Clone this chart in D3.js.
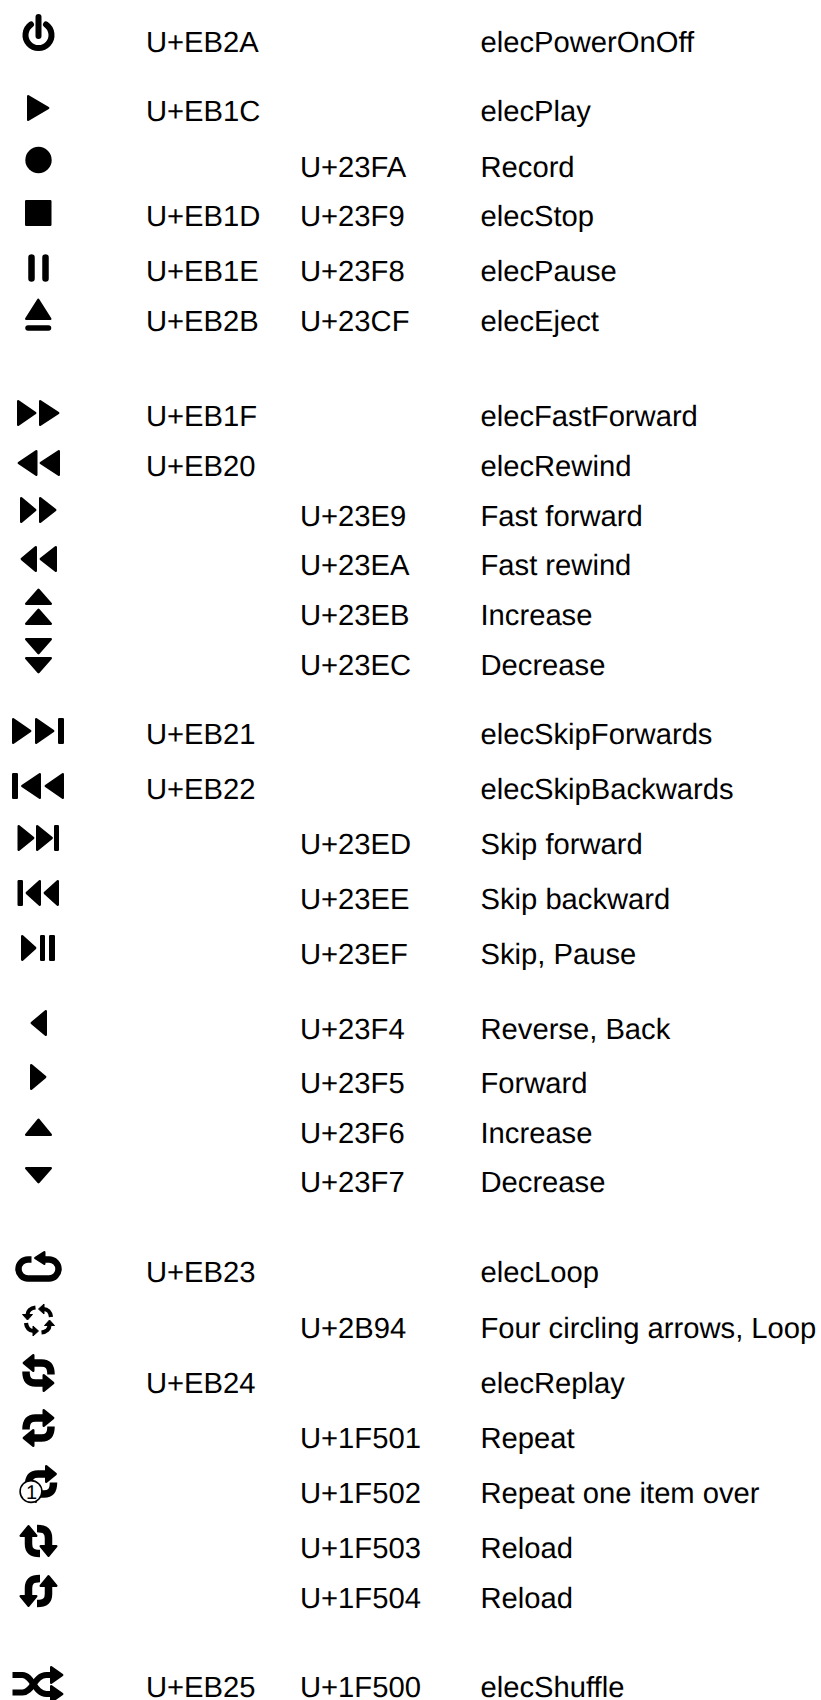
<!DOCTYPE html>
<html>
<head>
<meta charset="utf-8">
<script src="https://cdn.jsdelivr.net/npm/d3@7"></script>
<style>
html, body { margin: 0; padding: 0; background: #fff; }
svg { display: block; }
text { font-family: "Liberation Sans", Arial, sans-serif; font-size: 29.2px; fill: #000; text-rendering: geometricPrecision; }
</style>
</head>
<body>
<div id="chart"></div>
<script>
var glyphs = ["power","play","record","stop","pause","eject",
	"ffLarge","rwLarge","ff","rw","incDouble","decDouble",
	"skipFwdLarge","skipBackLarge","skipFwd","skipBack","skipPause",
	"left","right","up","down",
	"loop","fourArrows","replay","repeat","repeatOne","reload","reloadAlt",
	"shuffle"];
var elecCodes = ["U+EB2A","U+EB1C","","U+EB1D","U+EB1E","U+EB2B",
	"U+EB1F","U+EB20","","","","",
	"U+EB21","U+EB22","","","",
	"","","","",
	"U+EB23","","U+EB24","","","","",
	"U+EB25"];
var unicodes = ["","","U+23FA","U+23F9","U+23F8","U+23CF",
	"","","U+23E9","U+23EA","U+23EB","U+23EC",
	"","","U+23ED","U+23EE","U+23EF",
	"U+23F4","U+23F5","U+23F6","U+23F7",
	"","U+2B94","","U+1F501","U+1F502","U+1F503","U+1F504",
	"U+1F500"];
var names = ["elecPowerOnOff","elecPlay","Record","elecStop","elecPause","elecEject",
	"elecFastForward","elecRewind","Fast forward","Fast rewind","Increase","Decrease",
	"elecSkipForwards","elecSkipBackwards","Skip forward","Skip backward","Skip, Pause",
	"Reverse, Back","Forward","Increase","Decrease",
	"elecLoop","Four circling arrows, Loop","elecReplay","Repeat","Repeat one item over","Reload","Reload",
	"elecShuffle"];
// text baseline of every row and middle of its icon
var rowBase = [52,121,177,226,281,331,426,476,526,575,625,675,744,799,854,909,964,1039,1093,1143,1192,1282,1337.5,1392.5,1448,1503,1558,1608,1696.5];
var iconMid = [33,108,160,213,268,314,413,463,510,559,606,656,731,786,838,893,948,1023,1077,1127,1176,1269,1320,1373,1428,1484,1541,1591,1683];

var width = 821, height = 1700;

var svg = d3.select("#chart").append("svg")
	.attr("width", width)
	.attr("height", height);

var yScale = d3.scaleLinear().domain([0, height]).range([0, height]);
var xScale = d3.scaleOrdinal()
	.domain(["icon","elec","unicode","name"])
	.range([38.5, 146, 300, 480.5]);

// triangle inside a box, tip pointing to dir; corners get rounded by the stroke
function tri(dir, x0, x1, y0, y1) {
	var p = d3.path(), a = x0 + 1.2, b = x1 - 1.2, c = y0 + 1.2, d = y1 - 1.2;
	if (dir == "r") { b = x1 - 1.8; p.moveTo(a, c); p.lineTo(b, (y0 + y1) / 2); p.lineTo(a, d); }
	if (dir == "l") { a = x0 + 1.8; p.moveTo(b, c); p.lineTo(a, (y0 + y1) / 2); p.lineTo(b, d); }
	if (dir == "u") { c = y0 + 1.8; p.moveTo(a, d); p.lineTo((x0 + x1) / 2, c); p.lineTo(b, d); }
	if (dir == "d") { d = y1 - 1.8; p.moveTo(a, c); p.lineTo((x0 + x1) / 2, d); p.lineTo(b, c); }
	p.closePath();
	return p.toString();
}

function bar(x0, x1, y0, y1) {
	var p = d3.path();
	p.rect(x0 + 1.2, y0 + 1.2, x1 - x0 - 2.4, y1 - y0 - 2.4);
	return p.toString();
}

function fillPart(g, d) {
	return g.append("path").attr("d", d)
		.attr("fill", "#000").attr("stroke", "#000")
		.attr("stroke-width", 2.4).attr("stroke-linejoin", "round");
}

function linePart(g, d, w) {
	return g.append("path").attr("d", d)
		.attr("fill", "none").attr("stroke", "#000")
		.attr("stroke-width", w).attr("stroke-linecap", "round");
}

function bandPart(g, d, w) {
	return g.append("path").attr("d", d)
		.attr("fill", "none").attr("stroke", "#000")
		.attr("stroke-width", w);
}

// two curved arrows chasing each other, top one pointing left
function chase(g) {
	[0, 180].forEach(function(a) {
		var half = g.append("g").attr("transform", "rotate(" + a + ")");
		fillPart(half, tri("l", -16.5, -4, -19, -1));
		bandPart(half, "M-5,-10H3C9,-10 12.5,-7 12.5,1.5", 7.5);
	});
}

var drawGlyph = {
	power: function(g) {
		linePart(g, "M-7.5,-8.5A13,13 0 1 0 7.5,-8.5", 6);
		linePart(g, "M0,-16V3", 6);
	},
	play: function(g) { fillPart(g, tri("r", -11.5, 11.5, -13, 13)); },
	record: function(g) { g.append("circle").attr("r", 13.2).attr("fill", "#000"); },
	stop: function(g) { fillPart(g, bar(-13.5, 13, -13, 13)); },
	pause: function(g) {
		linePart(g, "M-7,-10.5V10.5", 6.5);
		linePart(g, "M7,-10.5V10.5", 6.5);
	},
	eject: function(g) {
		fillPart(g, tri("u", -13.5, 13, -16, 6));
		linePart(g, "M-10.5,14H10", 5.5);
	},
	ffLarge: function(g) {
		fillPart(g, tri("r", -21.5, -1.5, -13, 13));
		fillPart(g, tri("r", 0.5, 21.5, -13, 13));
	},
	rwLarge: function(g) {
		fillPart(g, tri("l", -21.5, -1, -13, 13));
		fillPart(g, tri("l", 0.5, 21.5, -13, 13));
	},
	ff: function(g) {
		fillPart(g, tri("r", -18.5, -1.5, -13, 13));
		fillPart(g, tri("r", 0.5, 18.5, -13, 13));
	},
	rw: function(g) {
		fillPart(g, tri("l", -18.5, -1.5, -13, 13));
		fillPart(g, tri("l", 0.5, 18.5, -13, 13));
	},
	incDouble: function(g) {
		fillPart(g, tri("u", -13.5, 13.5, -18, -1));
		fillPart(g, tri("u", -13.5, 13.5, 2, 19));
	},
	decDouble: function(g) {
		fillPart(g, tri("d", -13.5, 13.5, -18, -1));
		fillPart(g, tri("d", -13.5, 13.5, 1, 18));
	},
	skipFwdLarge: function(g) {
		fillPart(g, tri("r", -26.5, -6.5, -13, 13));
		fillPart(g, tri("r", -3.5, 16.5, -13, 13));
		fillPart(g, bar(19.5, 25.5, -13, 13));
	},
	skipBackLarge: function(g) {
		fillPart(g, bar(-26.5, -20.5, -13, 13));
		fillPart(g, tri("l", -18, 2.5, -13, 13));
		fillPart(g, tri("l", 5.5, 25.5, -13, 13));
	},
	skipFwd: function(g) {
		fillPart(g, tri("r", -21, -3.5, -13, 13));
		fillPart(g, tri("r", -2.5, 15, -13, 13));
		fillPart(g, bar(15.5, 20.5, -13, 13));
	},
	skipBack: function(g) {
		fillPart(g, bar(-21, -15.5, -13, 13));
		fillPart(g, tri("l", -13.5, 2.5, -13, 13));
		fillPart(g, tri("l", 4.5, 20.5, -13, 13));
	},
	skipPause: function(g) {
		fillPart(g, tri("r", -17.5, -1.5, -13, 13));
		fillPart(g, bar(1.5, 6.5, -13, 13));
		fillPart(g, bar(10.5, 16.5, -13, 13));
	},
	left: function(g) { fillPart(g, tri("l", -8.5, 8.5, -13, 13)); },
	right: function(g) { fillPart(g, tri("r", -8.5, 8.5, -13, 13)); },
	up: function(g) { fillPart(g, tri("u", -13.5, 13.5, -9, 9)); },
	down: function(g) { fillPart(g, tri("d", -13.5, 13.5, -9, 8)); },
	loop: function(g) {
		fillPart(g, tri("l", -5, 7, -18, -4));
		bandPart(g, "M5,-9.5H10.5A9.5,9.5 0 0 1 10.5,9.5H-10.5A9.5,9.5 0 0 1 -10.5,-9.5H-7", 6.5);
	},
	fourArrows: function(g) {
		[0, 90, 180, 270].forEach(function(a) {
			var q = g.append("g").attr("transform", "rotate(" + a + ")");
			bandPart(q, "M5,-11C9,-11 12,-8 12.5,-3", 4.2);
			fillPart(q, "M0,-11L5.5,-16L5.5,-6Z").attr("stroke-width", 1);
		});
	},
	replay: function(g) { chase(g); },
	repeat: function(g) { chase(g.append("g").attr("transform", "scale(-1,1)")); },
	repeatOne: function(g) {
		chase(g.append("g").attr("transform", "translate(2.5,0) scale(-1,1)"));
		g.append("circle").attr("cx", -7.5).attr("cy", 7.5).attr("r", 10.9)
			.attr("fill", "#fff").attr("stroke", "#000").attr("stroke-width", 1.6);
		g.append("text").attr("x", -7).attr("y", 15).attr("text-anchor", "middle")
			.style("font-size", "20px").text("1");
	},
	reload: function(g) { chase(g.append("g").attr("transform", "rotate(90) scale(-1,1)")); },
	reloadAlt: function(g) { chase(g.append("g").attr("transform", "rotate(90)")); },
	shuffle: function(g) {
		fillPart(g, tri("r", 11.5, 25.5, -17, 1));
		fillPart(g, tri("r", 11.5, 25.5, 2, 20));
		bandPart(g, "M-26,-8H-16C-6,-8 -4,11 8,11H13", 6);
		bandPart(g, "M-26,9.5H-16C-6,9.5 -4,-8 8,-8H13", 6);
	}
};

var rows = svg.selectAll("g.row")
	.data(glyphs.map(function(name, i) { return i; }))
	.join("g")
	.attr("class", "row");

rows.append("g")
	.attr("transform", function(i) {
		return "translate(" + xScale("icon") + "," + yScale(iconMid[i]) + ")";
	})
	.each(function(i) { drawGlyph[glyphs[i]](d3.select(this)); });

rows.append("text").attr("x", xScale("elec")).attr("y", function(i) { return yScale(rowBase[i]); })
	.text(function(i) { return elecCodes[i]; });
rows.append("text").attr("x", xScale("unicode")).attr("y", function(i) { return yScale(rowBase[i]); })
	.text(function(i) { return unicodes[i]; });
rows.append("text").attr("x", xScale("name")).attr("y", function(i) { return yScale(rowBase[i]); })
	.text(function(i) { return names[i]; });
</script>
</body>
</html>
